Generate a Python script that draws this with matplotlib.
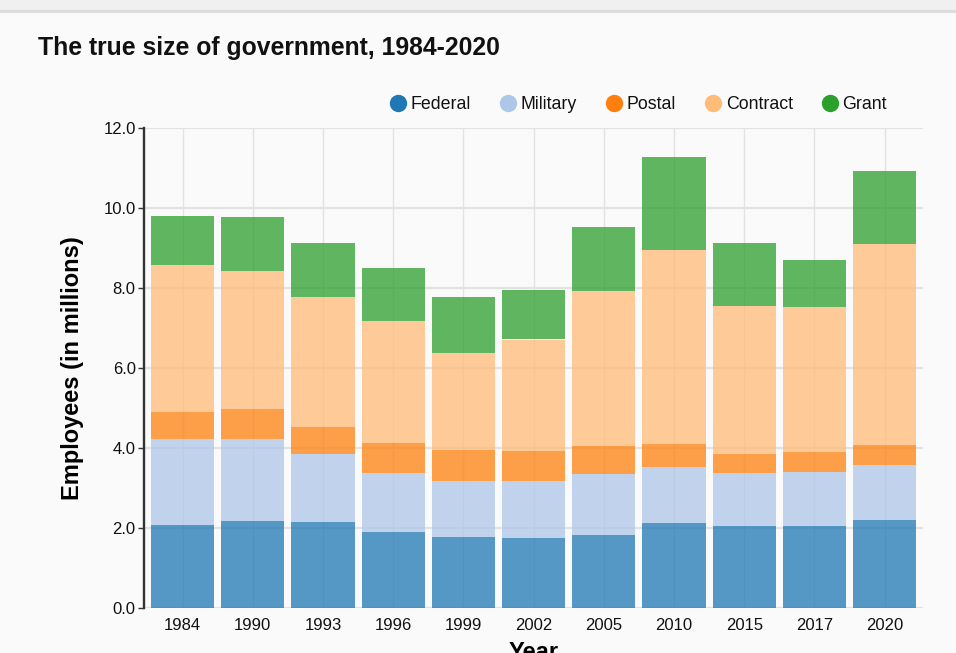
import matplotlib
matplotlib.use("Agg")
import matplotlib.pyplot as plt
from matplotlib.lines import Line2D
from matplotlib.patches import Rectangle
import numpy as np

years = ["1984", "1990", "1993", "1996", "1999", "2002", "2005", "2010", "2015", "2017", "2020"]
federal = [2.08, 2.18, 2.15, 1.90, 1.79, 1.77, 1.83, 2.13, 2.05, 2.07, 2.21]
military = [2.15, 2.05, 1.71, 1.48, 1.39, 1.41, 1.53, 1.39, 1.32, 1.34, 1.37]
postal = [0.67, 0.75, 0.68, 0.76, 0.78, 0.75, 0.70, 0.59, 0.49, 0.50, 0.49]
contract = [3.67, 3.44, 3.25, 3.04, 2.41, 2.79, 3.88, 4.84, 3.70, 3.63, 5.04]
grant = [1.23, 1.35, 1.34, 1.34, 1.40, 1.24, 1.58, 2.34, 1.58, 1.18, 1.82]

series_names = ["Federal", "Military", "Postal", "Contract", "Grant"]
series_values = [federal, military, postal, contract, grant]
series_colors = ["#1f77b4", "#aec7e8", "#ff7f0e", "#ffbb78", "#2ca02c"]
y_ticks = [0, 2, 4, 6, 8, 10, 12]

plt.rcParams['font.family'] = ['Liberation Sans', 'DejaVu Sans']
BG = "#fafafa"

fig = plt.figure(figsize=(9.56, 6.53), dpi=100, facecolor=BG)
# top strip
fig.patches.append(Rectangle((0, 1 - 10 / 653), 1, 10 / 653, transform=fig.transFigure,
                             facecolor="#f0f0f0", edgecolor="none", zorder=0))
fig.patches.append(Rectangle((0, 1 - 13 / 653), 1, 3 / 653, transform=fig.transFigure,
                             facecolor="#dcdcdc", edgecolor="none", zorder=0))

ax = fig.add_axes([144 / 956, 1 - 608.3 / 653, (923.3 - 144) / 956, (608.3 - 128.3) / 653])
ax.set_facecolor(BG)

x = np.arange(len(years))
bottom = np.zeros(len(years))
for name, vals, col in zip(series_names, series_values, series_colors):
    v = np.array(vals)
    ax.bar(x, v, width=0.9, bottom=bottom, color=col, alpha=0.75, linewidth=0, zorder=3, label=name)
    bottom += v

ax.set_xlim(-0.55, len(years) - 0.45)
ax.set_ylim(0, 12)
ax.set_yticks(y_ticks)
ax.set_yticklabels([f"{t:.1f}" for t in y_ticks])
ax.set_xticks(x)
ax.set_xticklabels(years)

ax.grid(axis='y', color="#e2e2e2", linewidth=1.6, zorder=0)
ax.grid(axis='x', color="#e2e2e2", linewidth=1.0, zorder=0)
ax.set_axisbelow(True)

for s in ["top", "right", "bottom"]:
    ax.spines[s].set_visible(False)
ax.spines["left"].set_color("#333333")
ax.spines["left"].set_linewidth(1.7)
ax.spines["left"].set_zorder(5)

ax.tick_params(axis='y', length=4, width=1, color="#333333", labelsize=12, labelcolor="#111111", pad=2)
ax.tick_params(axis='x', length=0, labelsize=12, labelcolor="#111111", pad=7)

ax.set_ylabel("Employees (in millions)", fontsize=17, fontweight='bold', color="#000000", labelpad=14)
ax.set_xlabel("Year", fontsize=17, fontweight='bold', color="#000000", labelpad=6)

fig.text(38 / 956, 1 - 54.5 / 653, "The true size of government, 1984-2020",
         fontsize=17.8, fontweight='bold', color="#111111",
         ha='left', va='baseline')

handles = [Line2D([0], [0], marker='o', linestyle='none', markersize=12.5,
                  markerfacecolor=c, markeredgecolor='none') for c in series_colors]
leg = fig.legend(handles, series_names, loc='center right', bbox_to_anchor=(887 / 956, 1 - 104.5 / 653),
                 ncol=5, frameon=False, fontsize=12.8, handlelength=0.9, handletextpad=0.25,
                 columnspacing=1.65, borderpad=0, borderaxespad=0)
for t in leg.get_texts():
    t.set_color("#111111")

fig.savefig("out.png", dpi=100, facecolor=BG)
